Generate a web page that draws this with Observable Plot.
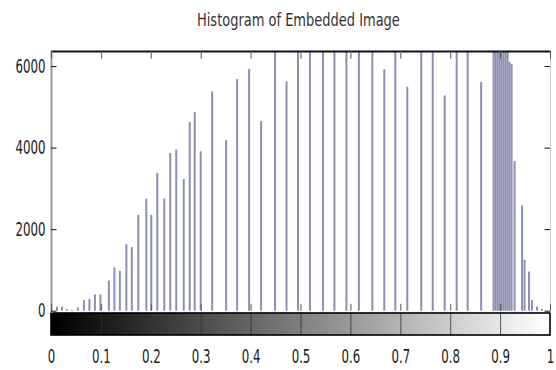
<!DOCTYPE html>
<html><head><meta charset="utf-8">
<script src="https://cdn.jsdelivr.net/npm/d3@7"></script>
<script src="https://cdn.jsdelivr.net/npm/@observablehq/plot@0.6"></script>
<style>
html,body{margin:0;padding:0;background:#fff;}
body{width:556px;height:370px;overflow:hidden;position:relative;}
#title{position:absolute;left:40px;right:0;top:10px;line-height:20px;text-align:center;
  font-family:"Liberation Sans Narrow","DejaVu Sans Condensed",sans-serif;font-size:18px;color:#333;}
#title span{display:inline-block;transform-origin:50% 50%;white-space:nowrap;}
#chart{position:absolute;left:0;top:40px;}
</style></head><body>
<div id="title"><span></span></div>
<div id="chart"></div>
<script>
// bin centres (intensity 0..1) and pixel counts
const binCenters = [0.011,0.021,0.031,0.041,0.053,0.065,0.076,0.087,0.098,0.115,0.126,0.137,0.150,0.161,0.174,0.190,0.200,0.212,0.226,0.238,0.250,0.265,0.277,0.287,0.299,0.322,0.350,0.372,0.396,0.420,0.448,0.471,0.494,0.518,0.544,0.567,0.591,0.616,0.643,0.667,0.689,0.713,0.741,0.764,0.788,0.812,0.834,0.861,
  0.886,0.890,0.894,0.898,0.902,0.906,0.910,0.914,0.918,0.922,
  0.928,0.943,0.948,0.957,0.963,0.973,0.983];
const counts = [100,100,40,20,80,260,290,400,400,740,1060,975,1630,1560,2350,2750,2350,3380,2750,3870,3950,3230,4630,4870,3910,5380,4190,5680,5930,4650,7000,5620,7000,7000,7000,7000,7000,7000,7000,5920,7000,5490,7000,7000,5280,7000,7000,5610,
  7000,7000,7000,7000,7000,7000,7000,7000,6100,6050,
  3670,2580,1250,960,260,100,40];
const yTicks = [0,2000,4000,6000];
const xTicks = [0,0.1,0.2,0.3,0.4,0.5,0.6,0.7,0.8,0.9,1];
const title = "Histogram of Embedded Image";

const yMax = 6370, yMin = -596, cbTop = -56;
const hist = binCenters.map((x, i) => ({x, n: counts[i]}));
const ramp = d3.range(128).map(i => ({x1: i / 128, x2: Math.min(1, (i + 1.3) / 128), g: d3.rgb(i * 255 / 127, i * 255 / 127, i * 255 / 127).toString()}));
const FONT = '"Liberation Sans Narrow","DejaVu Sans Condensed",sans-serif';

const chart = Plot.plot({
  width: 556, height: 330,
  marginLeft: 51, marginRight: 6, marginTop: 11, marginBottom: 35,
  style: {fontFamily: FONT, background: "#fff", color: "#222"},
  x: {domain: [0, 1], label: null},
  y: {domain: [yMin, yMax], clamp: true, label: null},
  color: {type: "identity"},
  marks: [
    Plot.ruleX(hist, {x: "x", y1: 0, y2: "n", stroke: "#8c8eb4", strokeWidth: 2}),
    Plot.rect(ramp, {x1: "x1", x2: "x2", y1: cbTop, y2: yMin, fill: "g", shapeRendering: "crispEdges"}),
    Plot.ruleX(xTicks.slice(1, -1), {y1: cbTop, y2: yMin, stroke: "#333", strokeOpacity: 0.8}),
    Plot.rect([0], {x1: 0, x2: 1, y1: cbTop, y2: yMin, fill: "none", stroke: "#000", strokeWidth: 1.6}),
    Plot.ruleY([yMax], {x1: 0, x2: 1, stroke: "#111", strokeWidth: 2}),
    Plot.ruleX([0], {y1: cbTop, y2: yMax, stroke: "#999", strokeWidth: 2}),
    Plot.ruleX([1], {y1: cbTop, y2: yMax, stroke: "#ccc", strokeWidth: 1}),
    Plot.ruleY(yTicks, {x1: 0, x2: 0.011, stroke: "#111"}),
    Plot.ruleY(yTicks, {x1: 0.989, x2: 1, stroke: "#111"}),
    Plot.ruleX(xTicks, {y1: yMax, y2: yMax - 190, stroke: "#555"}),
    Plot.ruleX(xTicks, {y1: 0, y2: 170, stroke: "#555"}),
    Plot.axisY(yTicks, {tickSize: 0, tickPadding: 6, fontSize: 18, label: null, fill: "#222",
      tickFormat: d => String(d)}),
    Plot.axisX(xTicks, {tickSize: 0, tickPadding: 14, fontSize: 18, label: null, fill: "#222",
      tickFormat: d => String(+d.toFixed(1))})
  ]
});
document.getElementById("chart").appendChild(chart);

// narrow lettering like the original: "6000" is about 30px wide there
const labels = d3.select(chart).selectAll("g[aria-label$='tick label'] text");
let ref = null;
labels.each(function() { if (this.textContent === "6000") ref = this; });
const sx = ref ? Math.min(1, 30 / ref.getBBox().width) : 0.75;
labels.each(function() {
  const t = this.getAttribute("transform") || "";
  this.setAttribute("transform", t + ` scale(${sx},1.05)`);
});

const span = document.querySelector("#title span");
span.textContent = title;
const tw = span.offsetWidth;
span.style.transform = `scaleX(${Math.min(1, 203 / tw)})`;
</script>
</body></html>
